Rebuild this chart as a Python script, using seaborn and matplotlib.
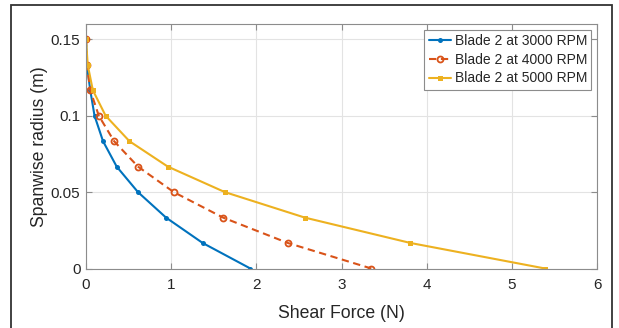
import numpy as np
import pandas as pd
import matplotlib
matplotlib.use("Agg")
import matplotlib.pyplot as plt
import seaborn as sns
from matplotlib.patches import Rectangle

radius = [0.15, 0.1333, 0.1167, 0.1, 0.0833, 0.0667, 0.05, 0.0333, 0.0167, 0.0]
shear_3000 = [0.0, 0.01, 0.05, 0.10, 0.20, 0.36, 0.61, 0.94, 1.37, 1.93]
shear_4000 = [0.0, 0.01, 0.05, 0.15, 0.33, 0.61, 1.03, 1.61, 2.37, 3.35]
shear_5000 = [0.0, 0.02, 0.08, 0.23, 0.51, 0.96, 1.63, 2.57, 3.81, 5.39]
labels = ["Blade 2 at 3000 RPM", "Blade 2 at 4000 RPM", "Blade 2 at 5000 RPM"]
colors = ["#0072BD", "#D95319", "#EDB120"]

sns.set_theme(style="white")
plt.rcParams['font.family'] = ['Liberation Sans', 'DejaVu Sans']
plt.rcParams['text.color'] = '#262626'

fig = plt.figure(figsize=(6.19, 3.28), dpi=100)
ax = fig.add_axes([86/619, 1-268.5/328, (597-86)/619, (268.5-24)/328])

styles = [
    dict(marker='o', markersize=3.6, linestyle='-', markerfacecolor=colors[0], markeredgewidth=0),
    dict(marker='o', markersize=4.3, linestyle=(0, (3.5, 2.2)), markerfacecolor='none', markeredgewidth=1.3),
    dict(marker='s', markersize=3.6, linestyle='-', markerfacecolor=colors[2], markeredgewidth=0),
]
for xs, lab, c, st in zip([shear_3000, shear_4000, shear_5000], labels, colors, styles):
    df = pd.DataFrame({"x": xs, "y": radius})
    sns.lineplot(data=df, x="x", y="y", ax=ax, color=c, label=lab, sort=False,
                 estimator=None, linewidth=1.5, markeredgecolor=c, **st)

ax.set_xlim(0, 6)
ax.set_ylim(0, 0.16)
ax.set_xticks([0, 1, 2, 3, 4, 5, 6])
ax.set_yticks([0, 0.05, 0.1, 0.15])
ax.set_yticklabels(["0", "0.05", "0.1", "0.15"])
ax.grid(True, color='#e3e3e3', linewidth=0.8)
ax.set_axisbelow(True)
for s in ax.spines.values():
    s.set_color('#8c8c8c')
    s.set_linewidth(0.8)
ax.tick_params(direction='in', length=4, width=0.8, color='#8c8c8c', labelsize=11,
               labelcolor='#262626', top=True, right=True, bottom=True, left=True)
ax.tick_params(axis='x', pad=7)
ax.tick_params(axis='y', pad=4)
ax.set_xlabel("Shear Force (N)", fontsize=12.7, color='#262626', labelpad=9)
ax.set_ylabel("Spanwise radius (m)", fontsize=12.7, color='#262626', labelpad=2)

leg = ax.legend(loc='upper right', fontsize=10, frameon=True, fancybox=False,
                edgecolor='#8c8c8c', framealpha=1, borderaxespad=0.4,
                handlelength=1.6, handletextpad=0.3, labelspacing=0.35, borderpad=0.3)
leg.get_frame().set_linewidth(0.8)

fig.add_artist(Rectangle((11/619, -0.1), (612-11)/619, 1.1 - 5/328, transform=fig.transFigure,
                         fill=False, edgecolor='#333333', linewidth=1.3))

fig.savefig("out.png", dpi=100)
